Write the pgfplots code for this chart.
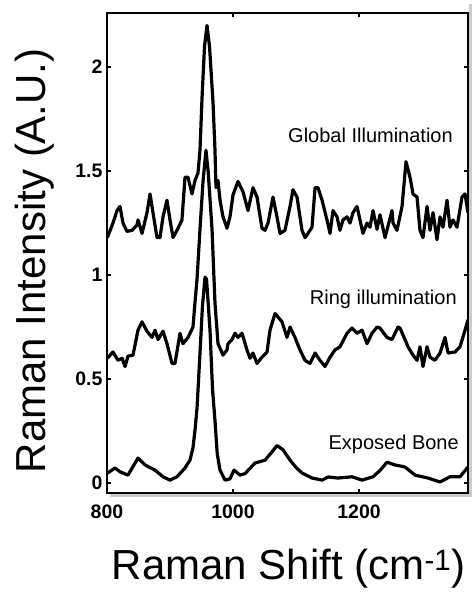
\documentclass[border=0pt]{standalone}
\usepackage{fontspec}
\setmainfont{Liberation Sans}
\usepackage{pgfplots}
\pgfplotsset{compat=1.18}

\begin{document}
\begin{tikzpicture}[x=1pt,y=1pt]
\path[use as bounding box] (0,0) rectangle (472,592);
% light drop shadow along the bottom and right edges of the frame
\draw[gray!40, line width=2.6pt] (110,96.4) -- (470.6,96.4) -- (470.6,588);
\begin{axis}[
  name=main,
  at={(107pt,99pt)}, anchor=south west,
  width=361pt, height=480pt, scale only axis,
  xmin=800, xmax=1373, ymin=-0.048, ymax=2.26,
  xtick={800,1000,1200}, ytick={0,0.5,1,1.5,2},
  tick align=inside, major tick length=4pt,
  every axis/.append style={line width=2.5pt},
  every tick/.style={black, line width=2pt},
  axis line style={line width=2.5pt},
  /pgf/number format/assume math mode=true,
  /pgf/number format/1000 sep={},
  ticklabel style={font=\fontsize{19.5}{22}\selectfont\bfseries},
  xticklabel style={yshift=-7pt},
  every axis x label/.style={at={(axis description cs:0.503,-0.181)}, anchor=base},
  every axis y label/.style={at={(axis description cs:-0.169,0.484)}, anchor=base, rotate=90},
  label style={font=\fontsize{42}{48}\selectfont},
  xlabel={Raman Shift (cm\textsuperscript{-1})},
  ylabel={Raman Intensity (A.U.)},
  clip=true,
]
% Global illumination
\addplot[black, line width=3.2pt, line join=round] coordinates {
(800.5,1.18) (809.5,1.25) (815.9,1.31) (820.6,1.33) (825.4,1.25) (831.7,1.21)
(839.7,1.215) (847.6,1.24) (849.2,1.265) (855.6,1.20) (863.5,1.30) (868.3,1.39)
(873.0,1.30) (879.4,1.18) (884.1,1.18) (888.9,1.28) (895.2,1.36) (900.0,1.265)
(904.8,1.18) (911.1,1.215) (919.0,1.265) (923.8,1.47) (928.6,1.47) (934.9,1.39)
(939.7,1.455) (944.4,1.49) (947.6,1.60) (950.8,1.85) (954.8,2.10) (958.7,2.20)
(962.7,2.10) (968.3,1.83) (971.4,1.60) (973.0,1.42) (976.2,1.455) (979.4,1.36)
(984.1,1.28) (990.5,1.225) (995.2,1.28) (1000.0,1.385) (1007.9,1.45) (1015.9,1.40)
(1023.8,1.31) (1031.7,1.42) (1038.1,1.375) (1046.0,1.225) (1050.8,1.215) (1055.6,1.25)
(1063.5,1.375) (1069.8,1.28) (1074.6,1.20) (1082.5,1.215) (1090.5,1.33) (1095.2,1.41)
(1101.6,1.375) (1109.5,1.215) (1114.3,1.18) (1119.0,1.20) (1125.4,1.23) (1130.2,1.42)
(1134.9,1.42) (1141.3,1.36) (1149.2,1.265) (1154.0,1.20) (1158.7,1.31) (1165.1,1.28)
(1169.8,1.215) (1174.6,1.265) (1181.0,1.28) (1185.7,1.25) (1190.5,1.30) (1196.8,1.33)
(1206.3,1.20) (1212.7,1.25) (1217.5,1.23) (1222.2,1.31) (1228.6,1.22) (1233.3,1.29)
(1241.3,1.18) (1252.4,1.31) (1254.0,1.25) (1260.3,1.215) (1268.3,1.33) (1274.6,1.545)
(1281.0,1.47) (1285.7,1.39) (1292.1,1.375) (1296.8,1.215) (1301.6,1.18) (1308.0,1.33)
(1312.7,1.215) (1317.5,1.30) (1323.8,1.17) (1328.6,1.28) (1333.3,1.23) (1339.7,1.36)
(1344.4,1.23) (1349.2,1.265) (1355.6,1.23) (1363.5,1.375) (1368.3,1.39) (1373.0,1.30)
};
% Ring illumination
\addplot[black, line width=3.2pt, line join=round] coordinates {
(800.5,0.60) (809.5,0.63) (817.5,0.59) (824.0,0.60) (828.6,0.56) (833.3,0.61)
(841.3,0.615) (849.2,0.735) (855.6,0.775) (863.5,0.73) (871.4,0.70) (876.2,0.735)
(881.0,0.69) (888.9,0.73) (895.2,0.67) (903.2,0.575) (907.9,0.575) (915.9,0.72)
(920.6,0.67) (928.6,0.70) (936.5,0.75) (939.7,0.87) (942.9,0.98) (947.6,1.22)
(952.4,1.45) (957.1,1.60) (960.5,1.50) (966.7,1.22) (971.4,0.865) (976.2,0.67)
(984.1,0.615) (990.5,0.64) (992.1,0.67) (998.4,0.69) (1003.2,0.72) (1007.9,0.70)
(1014.3,0.72) (1022.2,0.64) (1027.0,0.60) (1031.7,0.625) (1038.1,0.575) (1046.0,0.605)
(1054.0,0.63) (1058.7,0.735) (1066.7,0.815) (1077.8,0.775) (1085.7,0.70) (1090.5,0.75)
(1098.4,0.70) (1106.3,0.64) (1114.3,0.59) (1122.2,0.575) (1130.2,0.625) (1138.1,0.59)
(1146.0,0.56) (1154.0,0.605) (1161.9,0.64) (1169.8,0.655) (1181.0,0.72) (1188.9,0.745)
(1196.8,0.72) (1204.8,0.735) (1212.7,0.67) (1220.6,0.72) (1228.6,0.75) (1233.3,0.745)
(1237.0,0.73) (1244.4,0.70) (1252.4,0.69) (1257.1,0.72) (1261.9,0.75) (1265.0,0.745)
(1273.0,0.69) (1277.8,0.655) (1285.7,0.615) (1292.1,0.59) (1296.8,0.655) (1301.6,0.56)
(1308.0,0.655) (1312.7,0.605) (1320.6,0.59) (1328.6,0.625) (1336.5,0.70) (1341.3,0.625)
(1352.4,0.63) (1360.3,0.655) (1368.3,0.735) (1373.0,0.785)
};
% Exposed bone
\addplot[black, line width=3.2pt, line join=round] coordinates {
(800.5,0.047) (812.7,0.072) (820.6,0.054) (833.3,0.038) (849.2,0.12) (860.3,0.087)
(876.2,0.062) (888.9,0.03) (900.0,0.014) (911.1,0.03) (923.8,0.072) (931.7,0.11)
(936.5,0.17) (939.7,0.255) (942.9,0.36) (947.6,0.625) (951.5,0.85) (955.6,0.99)
(958.0,0.98) (963.5,0.735) (967.5,0.45) (971.4,0.30) (975.0,0.14) (979.4,0.062)
(987.3,0.014) (995.2,0.02) (1001.6,0.062) (1011.1,0.038) (1019.0,0.045) (1034.9,0.096)
(1050.8,0.11) (1061.9,0.15) (1069.8,0.18) (1079.4,0.16) (1090.5,0.11) (1100.0,0.075)
(1109.5,0.048) (1125.4,0.024) (1141.3,0.014) (1150.8,0.029) (1166.7,0.024) (1188.9,0.03)
(1204.8,0.014) (1222.2,0.03) (1233.3,0.06) (1244.4,0.10) (1257.1,0.087) (1273.0,0.077)
(1288.9,0.038) (1309.5,0.024) (1328.6,0.005) (1344.4,0.03) (1360.3,0.03) (1373.0,0.077)
};
\node[anchor=base east, inner sep=0pt, font=\fontsize{20}{24}\selectfont] at (axis cs:1350.8,1.635) {Global Illumination};
\node[anchor=base east, inner sep=0pt, font=\fontsize{20}{24}\selectfont] at (axis cs:1357.1,0.856) {Ring illumination};
\node[anchor=base east, inner sep=0pt, font=\fontsize{20}{24}\selectfont] at (axis cs:1360.3,0.159) {Exposed Bone};
\end{axis}
\end{tikzpicture}
\end{document}
